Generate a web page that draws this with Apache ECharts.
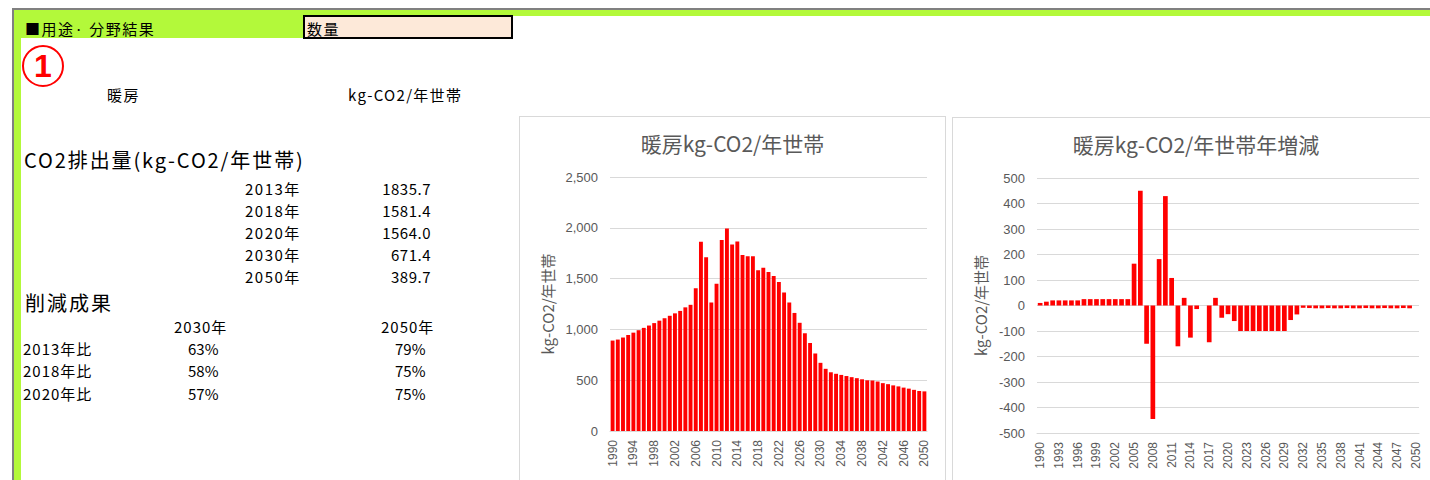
<!DOCTYPE html>
<html>
<head>
<meta charset="utf-8">
<script src="https://cdn.jsdelivr.net/npm/echarts@6/dist/echarts.min.js"></script>
<style>
  html, body { margin:0; padding:0; width:1430px; height:480px; overflow:hidden; background:#fff; }
  body { position:relative; font-family:"Noto Sans CJK JP","Noto Sans",sans-serif; color:#000; }
  .abs { position:absolute; white-space:nowrap; line-height:1; }
  .t16 { font-size:15px; letter-spacing:1px; }
  .panel { position:absolute; border:1px solid #d9d9d9; box-sizing:border-box; background:#fff; }
  .circ { position:absolute; left:22px; top:45px; width:42px; height:42px; box-sizing:border-box;
          border:2.5px solid #ff0000; border-radius:50%; display:flex; align-items:center; justify-content:center; }
  .circ span { font-family:"Liberation Sans",Arial,sans-serif; font-weight:bold; font-size:32px; line-height:1; color:#ff0000; }
</style>
</head>
<body>
<!-- frame -->
<div class="abs" style="left:12px;top:8px;width:1418px;height:2px;background:#808080;"></div>
<div class="abs" style="left:12px;top:8px;width:2px;height:472px;background:#808080;"></div>
<div class="abs" style="left:14px;top:10px;width:1416px;height:6px;background:#b3f93a;"></div>
<div class="abs" style="left:14px;top:10px;width:290px;height:28px;background:#b3f93a;"></div>
<div class="abs" style="left:14px;top:10px;width:7px;height:470px;background:#b3f93a;"></div>
<div class="abs" style="left:303px;top:15px;width:210px;height:24px;box-sizing:border-box;border:2px solid #000;background:#fde9d9;"></div>
<div class="circ"><span>1</span></div>

<div id="texts"></div>

<div id="p1" class="panel" style="left:519px;top:116px;width:427px;height:370px;"></div>
<div id="p2" class="panel" style="left:952px;top:117px;width:488px;height:370px;"></div>

<script>
// ---- data ----
const years = ["1990","1991","1992","1993","1994","1995","1996","1997","1998","1999",
  "2000","2001","2002","2003","2004","2005","2006","2007","2008","2009",
  "2010","2011","2012","2013","2014","2015","2016","2017","2018","2019",
  "2020","2021","2022","2023","2024","2025","2026","2027","2028","2029",
  "2030","2031","2032","2033","2034","2035","2036","2037","2038","2039",
  "2040","2041","2042","2043","2044","2045","2046","2047","2048","2049","2050"];

const emissions = [890,900,920,945,968,992,1015,1038,1062,1086,
  1110,1134,1158,1182,1217,1242,1406,1862,1710,1265,
  1450,1880,1992,1836,1864,1732,1720,1720,1581,1608,
  1564,1526,1466,1362,1265,1162,1065,962,866,763,
  671,612,578,563,552,541,530,520,509,499,
  497,487,471,461,449,439,427,417,405,394,390];

const annualChange = [10,15,20,20,20,20,20,25,25,25,
  25,25,25,25,25,164,450,-150,-445,182,
  429,108,-160,30,-126,-14,0,-144,30,-48,
  -34,-61,-100,-100,-100,-100,-100,-100,-100,-100,
  -57,-35,-9,-10,-11,-11,-10,-11,-11,-10,
  -11,-11,-10,-11,-11,-10,-11,-11,-10,-11,null];

const leftTitle = "暖房kg-CO2/年世帯";
const rightTitle = "暖房kg-CO2/年世帯年増減";
const yName = "kg-CO2/年世帯";
const leftTicks = { min:0, max:2500, interval:500 };
const rightTicks = { min:-500, max:500, interval:100 };

// spreadsheet texts
const summaryYears = ["2013年","2018年","2020年","2030年","2050年"];
const summaryValues = ["1835.7","1581.4","1564.0","671.4","389.7"];
const reductionRows = ["2013年比","2018年比","2020年比"];
const reduction2030 = ["63%","58%","57%"];
const reduction2050 = ["79%","75%","75%"];

// ---- spreadsheet text ----
const T = document.getElementById('texts');
function txt(s, x, yc, opts) {
  const d = document.createElement('div');
  d.className = 'abs ' + (opts && opts.cls ? opts.cls : 't16');
  d.textContent = s;
  const fs = (opts && opts.fs) || 15;
  d.style.fontSize = fs + 'px';
  if (opts && opts.ls !== undefined) d.style.letterSpacing = opts.ls + 'px';
  if (opts && opts.color) d.style.color = opts.color;
  if (opts && opts.weight) d.style.fontWeight = opts.weight;
  d.style.top = (yc - fs * 0.55) + 'px';
  if (opts && opts.right) { d.style.right = (1430 - x) + 'px'; d.style.textAlign = 'right'; }
  else d.style.left = x + 'px';
  T.appendChild(d);
}
txt("■用途· 分野結果", 25, 29, {fs:15, ls:1.5});
txt("数量", 307, 29, {fs:15, ls:1.5});
txt("暖房", 107, 95, {fs:15, ls:1.5});
txt("kg-CO2/年世帯", 348, 95, {fs:15, ls:1.3});
txt("CO2排出量(kg-CO2/年世帯)", 24, 161, {fs:20, ls:1.9});
const rowsY = [189, 211, 233, 255, 277];
summaryYears.forEach((s, i) => {
  txt(s, 245, rowsY[i], {fs:15, ls:1.5});
  txt(summaryValues[i], 431, rowsY[i], {fs:15, ls:0.5, right:true});
});
txt("削減成果", 25, 304, {fs:20, ls:2});
txt("2030年", 174, 327, {fs:15, ls:1});
txt("2050年", 381, 327, {fs:15, ls:1});
const redY = [349, 371, 394];
reductionRows.forEach((s, i) => {
  txt(s, 23, redY[i], {fs:15, ls:1});
  txt(reduction2030[i], 188, redY[i], {fs:15, ls:0});
  txt(reduction2050[i], 395, redY[i], {fs:15, ls:0});
});

// ---- charts ----
const gray = '#595959';
const gridColor = '#d9d9d9';
const font = '"Liberation Sans","Noto Sans CJK JP",sans-serif';

function makeChart(el, title, data, ticks, labelInterval, grid, nameGap) {
  const c = echarts.init(el, null, { renderer: 'svg' });
  c.setOption({
    animation: false,
    title: { text: title, left: 'center', top: 10,
      textStyle: { fontFamily: '"Noto Sans CJK JP",sans-serif', fontSize: 21, fontWeight: 'normal', color: gray } },
    grid: grid,
    xAxis: {
      type: 'category', data: years,
      axisLine: { show: true, onZero: false, lineStyle: { color: gridColor } },
      axisTick: { show: false },
      axisLabel: { interval: labelInterval, rotate: 90, fontSize: 12, color: gray, margin: 9, fontFamily: font }
    },
    yAxis: {
      type: 'value', min: ticks.min, max: ticks.max, interval: ticks.interval,
      name: yName, nameLocation: 'middle', nameGap: nameGap, nameRotate: 90,
      nameTextStyle: { fontSize: 15, color: gray, fontFamily: '"Noto Sans CJK JP",sans-serif' },
      axisLine: { show: false }, axisTick: { show: false },
      axisLabel: { fontSize: 13, color: gray, margin: 12, fontFamily: font,
        formatter: v => v.toLocaleString('en-US') },
      splitLine: { lineStyle: { color: gridColor, width: 1 } }
    },
    series: [{ type: 'bar', data: data, itemStyle: { color: '#ff0000' }, barCategoryGap: '25%' }]
  });
  return c;
}

makeChart(document.getElementById('p1'), leftTitle, emissions, leftTicks, 3,
  { left: 90, right: 18, top: 60, height: 254 }, 50);
makeChart(document.getElementById('p2'), rightTitle, annualChange, rightTicks, 2,
  { left: 84, right: 20, top: 60, height: 255 }, 45);
</script>
</body>
</html>
